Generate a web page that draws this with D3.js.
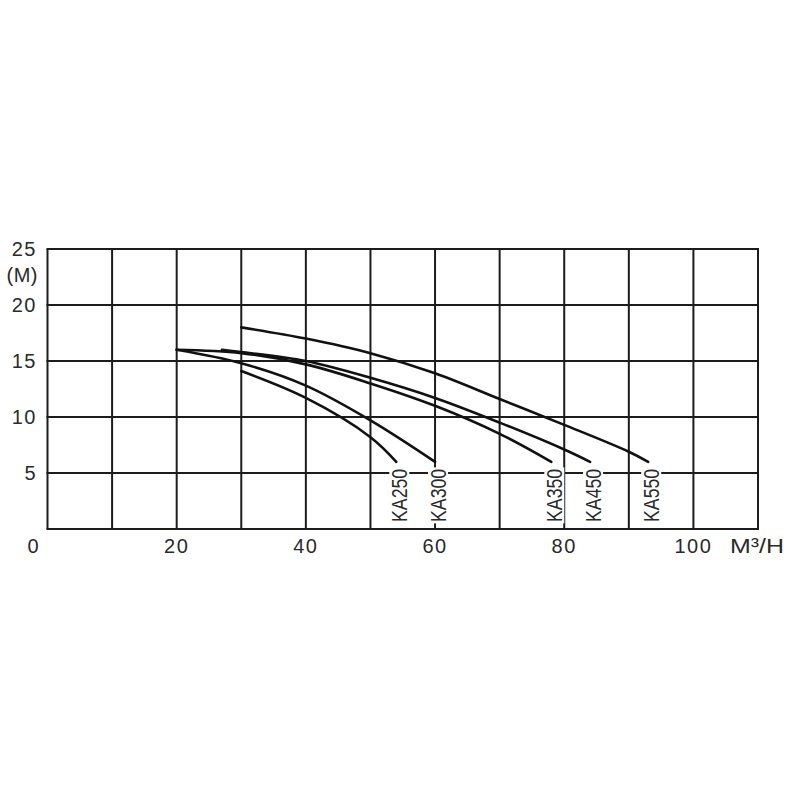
<!DOCTYPE html>
<html>
<head>
<meta charset="utf-8">
<script src="https://cdn.jsdelivr.net/npm/d3@7"></script>
<style>
  html, body { margin: 0; padding: 0; background: #fff; }
  svg { display: block; }
  text { font-family: "Liberation Sans", Arial, sans-serif; fill: #2a2a2a; }
</style>
</head>
<body>
<svg id="chart" width="800" height="800"></svg>
<script>
// ---- data (flow m3/h, head m) ----
const seriesNames = ["KA250", "KA300", "KA350", "KA450", "KA550"];
const ka250 = [[30, 14.1], [40, 11.7], [50, 8.2], [54, 6.0]];
const ka300 = [[20, 16.0], [30, 14.8], [40, 12.8], [50, 9.7], [60, 6.0]];
const ka350 = [[20, 16.0], [30, 15.7], [40, 14.7], [50, 13.0], [60, 11.0], [70, 8.5], [78, 6.0]];
const ka450 = [[27, 16.0], [30, 15.8], [40, 15.0], [50, 13.5], [60, 11.7], [70, 9.5], [80, 7.1], [84, 6.0]];
const ka550 = [[30, 18.0], [40, 17.0], [50, 15.7], [60, 13.9], [70, 11.6], [80, 9.3], [90, 6.9], [93, 6.0]];
const xTickLabels = [20, 40, 60, 80, 100];
const yTickLabels = [25, 20, 15, 10, 5];
const xUnit = "M³/H";
const yUnit = "(M)";
const originLabel = "0";

const seriesData = [ka250, ka300, ka350, ka450, ka550];

const svg = d3.select("#chart");
const x = d3.scaleLinear().domain([0, 110]).range([47.5, 758]);
const y = d3.scaleLinear().domain([0, 25]).range([529, 249]);

const gridColor = "#1c1c1c";

// grid
const grid = svg.append("g");
grid.selectAll("line.v").data(d3.range(0, 111, 10)).join("line")
  .attr("x1", d => x(d)).attr("x2", d => x(d))
  .attr("y1", y(0)).attr("y2", y(25))
  .attr("stroke", gridColor).attr("stroke-width", 2);
grid.selectAll("line.h").data(d3.range(0, 26, 5)).join("line")
  .attr("x1", x(0) - 1).attr("x2", x(110) + 1)
  .attr("y1", d => y(d)).attr("y2", d => y(d))
  .attr("stroke", gridColor).attr("stroke-width", 2);

// curves
const line = d3.line().x(d => x(d[0])).y(d => y(d[1])).curve(d3.curveCatmullRom.alpha(0.5));
svg.append("g").selectAll("path").data(seriesData).join("path")
  .attr("d", line)
  .attr("fill", "none")
  .attr("stroke", "#111")
  .attr("stroke-width", 2.6)
  .attr("stroke-linecap", "round");

// curve labels (rotated, with white backing)
const labG = svg.append("g");
seriesData.forEach((s, i) => {
  const last = s[s.length - 1];
  const cx = x(last[0]) + 3;
  const cy = y(3.0);
  const g = labG.append("g").attr("transform", `translate(${cx},${cy}) rotate(-90)`);
  g.append("rect").attr("x", -28).attr("y", -10).attr("width", 56).attr("height", 20).attr("fill", "#fff");
  g.append("text")
    .attr("x", 0).attr("y", 0)
    .attr("text-anchor", "middle")
    .attr("dominant-baseline", "central")
    .attr("font-size", 22)
    .attr("textLength", 53)
    .attr("lengthAdjust", "spacingAndGlyphs")
    .text(seriesNames[i]);
});

// y labels
const yl = svg.append("g");
yl.selectAll("text").data(yTickLabels).join("text")
  .attr("x", 37).attr("y", d => y(d))
  .attr("text-anchor", "end")
  .attr("dominant-baseline", "central")
  .attr("font-size", 20)
  .attr("letter-spacing", 1.5)
  .text(d => d);
yl.append("text").attr("x", 38).attr("y", 275)
  .attr("text-anchor", "end").attr("dominant-baseline", "central")
  .attr("font-size", 20).attr("letter-spacing", 0.5).text(yUnit);

// x labels
const xl = svg.append("g");
xl.selectAll("text").data(xTickLabels).join("text")
  .attr("x", d => x(d)).attr("y", 546)
  .attr("text-anchor", "middle")
  .attr("dominant-baseline", "central")
  .attr("font-size", 20)
  .attr("letter-spacing", 1.5)
  .text(d => d);
xl.append("text").attr("x", 33).attr("y", 546)
  .attr("text-anchor", "middle").attr("dominant-baseline", "central")
  .attr("font-size", 20).text(originLabel);
xl.append("text").attr("x", 730).attr("y", 546)
  .attr("text-anchor", "start").attr("dominant-baseline", "central")
  .attr("font-size", 20).attr("textLength", 54).attr("lengthAdjust", "spacingAndGlyphs")
  .text(xUnit);
</script>
</body>
</html>
